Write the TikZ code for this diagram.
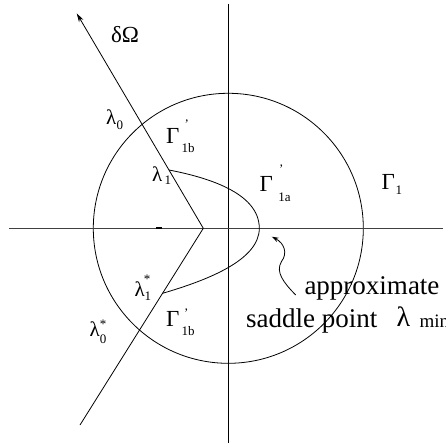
\documentclass[tikz,border=0pt]{standalone}
\usepackage{fontspec}
\setmainfont{Liberation Serif}
\usetikzlibrary{arrows.meta}
% label: main glyph in a box of given width, then superscript/subscript stack
% #1 main, #2 width, #3 sup raise, #4 sup shift, #5 sup, #6 sub, #7 sub drop
\newcommand\mylab[7]{\makebox[#2][l]{#1}{\fontsize{13bp}{15bp}\selectfont\rlap{\hspace{#4}\raisebox{#3}{#5}}\raisebox{-#7}{#6}}}
\tikzset{
  lbl/.style={font=\fontsize{23bp}{27bp}\selectfont, anchor=base west, inner sep=0pt, outer sep=0pt},
  lam/.style={font=\fontsize{21bp}{25bp}\selectfont, anchor=base west, inner sep=0pt, outer sep=0pt},
  big/.style={font=\fontsize{27bp}{32bp}\selectfont, anchor=base west, inner sep=0pt, outer sep=0pt},
  ln/.style={line width=0.8bp, black},
  hax/.style={line width=1.1bp, black!75},
}
\begin{document}
\begin{tikzpicture}[x=1bp, y=-1bp]
\useasboundingbox (0,0) rectangle (446,443);
% key points
\coordinate (O) at (228.3,228.3);
\coordinate (V) at (203.3,228.3);
\coordinate (Vt) at (228.3,4);
\coordinate (Vb) at (228.3,443);
\coordinate (Hl) at (9,228.3);
\coordinate (Hr) at (443,228.3);
\coordinate (Rt) at (76.7,13.3);
\coordinate (Rb) at (80,425);
\coordinate (L1) at (169,170);
\coordinate (L1s) at (162.6,293.3);
\coordinate (P) at (259.3,228.3);
\coordinate (Ka) at (156,228.3);
\coordinate (Kb) at (161.5,228.3);
\coordinate (W0) at (295.7,295);
\coordinate (Wm) at (281.5,261.5);
\coordinate (Wt) at (271.7,236.7);
% circle
\node[draw, ln, circle, minimum size=270bp, inner sep=0pt, outer sep=0pt] (C) at (O) {};
% axes
\draw[ln] (Vt) -- (Vb);
\draw[hax] (Hl) -- (Hr);
\draw[line width=2bp] (Ka) -- (Kb);
% boundary rays
\draw[ln, -{Stealth[length=9bp, width=5bp]}] (V) -- (Rt);
\draw[ln] (V) -- (Rb);
% contour
\draw[ln] (L1) .. controls (205,177) and (259.3,192) .. (P)
              .. controls (259.3,260) and (208,280) .. (L1s);
% wavy arrow
\draw[ln, -{Stealth[length=7bp, width=4.5bp]}] (W0) .. controls (284,283) and (275,272) .. (Wm)
              .. controls (288,253) and (284,243) .. (Wt);
% labels
\node[lbl] (dO) at (111,42.7) {δΩ};
\node[lam] (l0) at (106,125) {\mylab{λ}{10.5bp}{0bp}{0bp}{}{0}{4.5bp}};
\node[lbl] (G1bu) at (166,143.3) {\mylab{Γ}{15.5bp}{14.8bp}{3bp}{’}{1b}{9.4bp}};
\node[lam] (l1) at (152,181.5) {\mylab{λ}{12.5bp}{0bp}{0bp}{}{1}{3.5bp}};
\node[lbl] (G1a) at (259.5,191.7) {\mylab{Γ}{18.8bp}{18.2bp}{0.7bp}{’}{1a}{9.8bp}};
\node[lbl] (G1) at (381.5,189.3) {\mylab{Γ}{14bp}{0bp}{0bp}{}{1}{5.2bp}};
\node[lam] (l1st) at (134.5,296) {\mylab{λ}{10bp}{13bp}{-0.7bp}{*}{1}{4.5bp}};
\node[lam] (l0st) at (89.5,336) {\mylab{λ}{10.3bp}{8bp}{0bp}{*}{0}{7.5bp}};
\node[lbl] (G1bl) at (166,326) {\mylab{Γ}{15.5bp}{8.5bp}{2.5bp}{’}{1b}{9.5bp}};
\node[big] (appr) at (304.5,294.3) {approximate};
\node[big] (sadd) at (246.2,327) {saddle point};
\node[font=\fontsize{28bp}{32bp}\selectfont, anchor=base west, inner sep=0pt] (lmin) at (396.5,326.7)
  {\makebox[22.8bp][l]{λ}{\fontsize{19bp}{22bp}\selectfont\raisebox{-0.3bp}{min}}};
\end{tikzpicture}
\end{document}
